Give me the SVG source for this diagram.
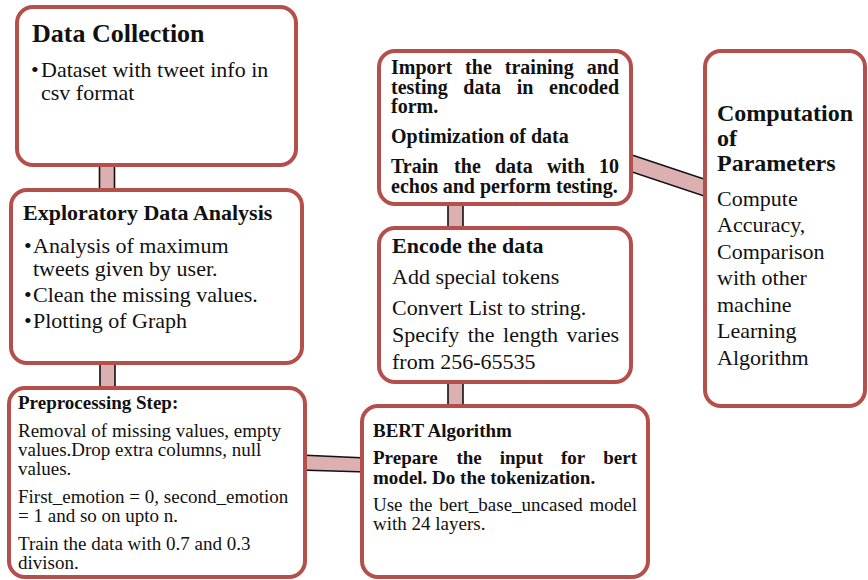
<svg xmlns="http://www.w3.org/2000/svg" width="868" height="580" viewBox="0 0 868 580">
  <style>
    .box { fill: #ffffff; stroke: #b44f4b; stroke-width: 4; }
    .link { fill: #dcb0b0; stroke: #111111; stroke-width: 1.6; }
    text { font-family: "Liberation Serif", "Times New Roman", serif; fill: #111111; }
    .b { font-weight: bold; }
    .t26 { font-size: 26px; }
    .t24 { font-size: 24px; }
    .t22 { font-size: 22px; }
    .t20 { font-size: 20px; }
    .t19 { font-size: 19px; }
  </style>
  <rect width="868" height="580" fill="#ffffff"/>

  <!-- connectors: drawn first so the boxes cover their ends -->
  <g id="connectors">
    <rect class="link" x="99.5" y="160" width="15" height="35"/>
    <rect class="link" x="100" y="358" width="15" height="35"/>
    <polygon class="link" points="300,455 366,458 366,472 300,470"/>
    <rect class="link" x="448" y="198" width="15" height="35"/>
    <rect class="link" x="448" y="378" width="15" height="33"/>
    <polygon class="link" points="626,153 710,181 710,198 626,170"/>
  </g>

  <g id="data-collection">
    <rect class="box" x="17" y="7" width="279" height="158" rx="16"/>
    <text class="b t26" x="32" y="42">Data Collection</text>
    <text class="t22" x="31" y="77">•</text>
    <text class="t22" x="41" y="77">Dataset with tweet info in</text>
    <text class="t22" x="41" y="100">csv format</text>
  </g>

  <g id="exploratory-analysis">
    <rect class="box" x="11" y="190" width="291" height="173" rx="16"/>
    <text class="b t22" x="23" y="220">Exploratory Data Analysis</text>
    <text class="t22" x="24" y="253">•</text>
    <text class="t22" x="33" y="253">Analysis of maximum</text>
    <text class="t22" x="33" y="276">tweets given by user.</text>
    <text class="t22" x="24" y="302">•</text>
    <text class="t22" x="33" y="302">Clean the missing values.</text>
    <text class="t22" x="24" y="328">•</text>
    <text class="t22" x="33" y="328">Plotting of Graph</text>
  </g>

  <g id="preprocessing">
    <rect class="box" x="9" y="388" width="296" height="189" rx="16"/>
    <text class="b t19" x="18" y="409">Preprocessing Step:</text>
    <text class="t19" x="18" y="437">Removal of missing values, empty</text>
    <text class="t19" x="18" y="456">values.Drop extra columns, null</text>
    <text class="t19" x="18" y="475">values.</text>
    <text class="t19" x="18" y="503">First_emotion = 0, second_emotion</text>
    <text class="t19" x="18" y="522">= 1 and so on upto n.</text>
    <text class="t19" x="18" y="550">Train the data with 0.7 and 0.3</text>
    <text class="t19" x="18" y="569">divison.</text>
  </g>

  <g id="bert-algorithm">
    <rect class="box" x="362" y="406" width="286" height="171" rx="16"/>
    <text class="b t19" x="373" y="437">BERT Algorithm</text>
    <text class="b t19" y="464"><tspan x="373">Prepare</tspan><tspan x="456.4">the</tspan><tspan x="499.7">input</tspan><tspan x="561">for</tspan><tspan x="637" text-anchor="end">bert</tspan></text>
    <text class="b t19" x="373" y="484">model. Do the tokenization.</text>
    <text class="t19" y="511"><tspan x="373">Use</tspan><tspan x="409.3">the</tspan><tspan x="439.3">bert_base_uncased</tspan><tspan x="637" text-anchor="end">model</tspan></text>
    <text class="t19" x="373" y="530">with 24 layers.</text>
  </g>

  <g id="encode-data">
    <rect class="box" x="379" y="228" width="252" height="154" rx="16"/>
    <text class="b t22" x="392" y="253">Encode the data</text>
    <text class="t22" x="392" y="284">Add special tokens</text>
    <text class="t22" x="392" y="315">Convert List to string.</text>
    <text class="t22" y="342"><tspan x="392">Specify</tspan><tspan x="467.7">the</tspan><tspan x="503.1">length</tspan><tspan x="619" text-anchor="end">varies</tspan></text>
    <text class="t22" x="392" y="369">from 256-65535</text>
  </g>

  <g id="training-testing">
    <rect class="box" x="379" y="51" width="252" height="153" rx="16"/>
    <text class="b t20" y="74"><tspan x="391">Import</tspan><tspan x="465.1">the</tspan><tspan x="504.8">training</tspan><tspan x="619" text-anchor="end">and</tspan></text>
    <text class="b t20" y="94"><tspan x="391">testing</tspan><tspan x="463.3">data</tspan><tspan x="516.7">in</tspan><tspan x="619" text-anchor="end">encoded</tspan></text>
    <text class="b t20" x="391" y="113">form.</text>
    <text class="b t20" x="391" y="143">Optimization of data</text>
    <text class="b t20" y="173"><tspan x="391">Train</tspan><tspan x="454.1">the</tspan><tspan x="495">data</tspan><tspan x="547">with</tspan><tspan x="619" text-anchor="end">10</tspan></text>
    <text class="b t20" x="391" y="193">echos and perform testing.</text>
  </g>

  <g id="computation-parameters">
    <rect class="box" x="705" y="51" width="160" height="355" rx="16"/>
    <text class="b t24" x="717" y="121">Computation</text>
    <text class="b t24" x="717" y="146">of</text>
    <text class="b t24" x="717" y="171">Parameters</text>
    <text class="t22" x="717" y="206">Compute</text>
    <text class="t22" x="717" y="232">Accuracy,</text>
    <text class="t22" x="717" y="259">Comparison</text>
    <text class="t22" x="717" y="285">with other</text>
    <text class="t22" x="717" y="312">machine</text>
    <text class="t22" x="717" y="338">Learning</text>
    <text class="t22" x="717" y="365">Algorithm</text>
  </g>
</svg>
